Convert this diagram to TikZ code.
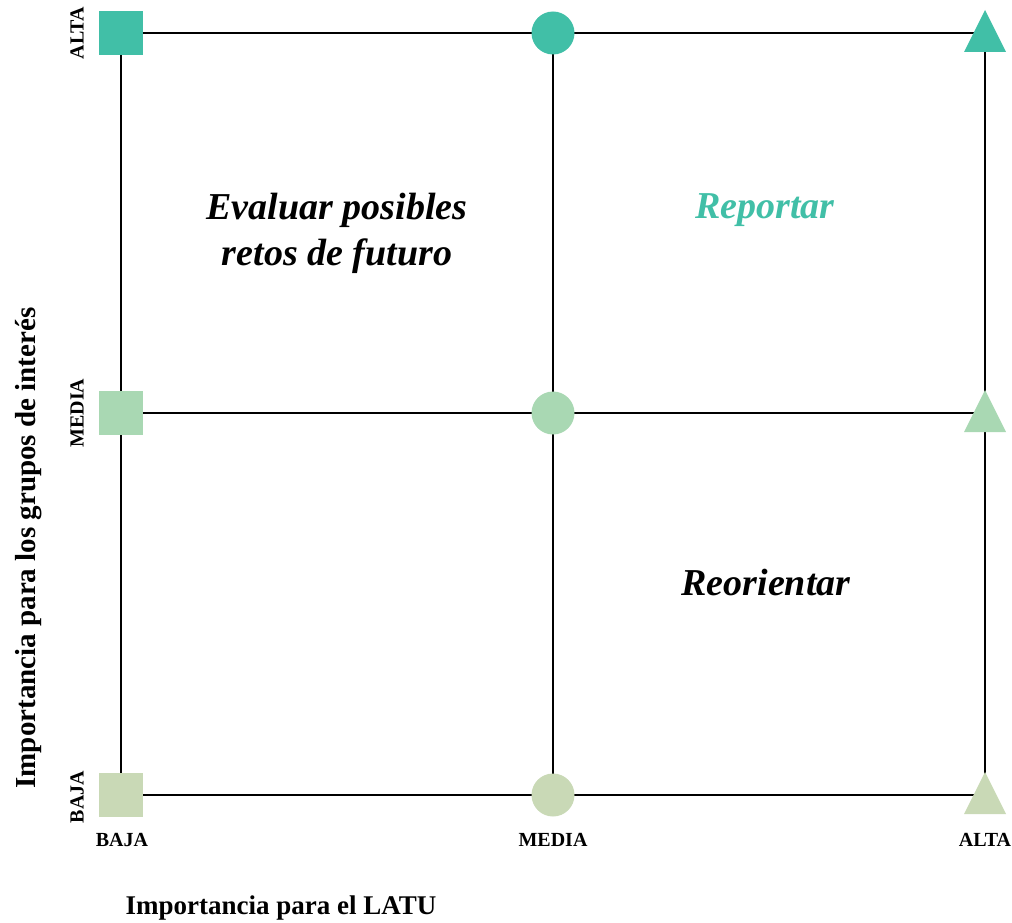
\documentclass[tikz,border=0pt]{standalone}
\usepackage{fontspec}
\setmainfont{Liberation Serif}
\usetikzlibrary{calc}
\definecolor{cHigh}{HTML}{41BFA7}
\definecolor{cMid}{HTML}{A9D8B3}
\definecolor{cLow}{HTML}{C9D9B6}
\tikzset{
  gridline/.style={line width=2.6pt, black},
  sqmark/.style={rectangle, minimum size=44pt, inner sep=0pt, fill=#1},
  cimark/.style={circle, minimum size=43pt, inner sep=0pt, fill=#1},
  ticklab/.style={font=\bfseries\fontsize{20}{22}\selectfont, inner sep=0pt},
  axistitle/.style={font=\bfseries\fontsize{27}{30}\selectfont, inner sep=0pt},
  quadlab/.style={font=\bfseries\itshape\fontsize{38}{46}\selectfont, align=center, inner sep=0pt},
}
\newcommand{\trimark}[2]{\fill[#2] ($(#1)+(0,-23)$) -- ($(#1)+(21,19)$) -- ($(#1)+(-21,19)$) -- cycle;}
\begin{document}
\begin{tikzpicture}[x=1pt,y=-1pt]
\useasboundingbox (0,0) rectangle (1012,923);
% grid points
\coordinate (LH) at (121,33);  \coordinate (MH) at (553,33);  \coordinate (RH) at (985,33);
\coordinate (LM) at (121,413); \coordinate (MM) at (553,413); \coordinate (RM) at (985,413);
\coordinate (LL) at (121,795); \coordinate (ML) at (553,795); \coordinate (RL) at (985,795);
% grid lines
\draw[gridline] (LH) -- (RH);
\draw[gridline] (LM) -- (RM);
\draw[gridline] (LL) -- (RL);
\draw[gridline] (LH) -- (LL);
\draw[gridline] (MH) -- (ML);
\draw[gridline] (RH) -- (RL);
% markers
\node[sqmark=cHigh] (sqH) at (LH) {};
\node[sqmark=cMid]  (sqM) at (LM) {};
\node[sqmark=cLow]  (sqL) at (LL) {};
\node[cimark=cHigh] (ciH) at (MH) {};
\node[cimark=cMid]  (ciM) at (MM) {};
\node[cimark=cLow]  (ciL) at (ML) {};
\trimark{RH}{cHigh}
\trimark{RM}{cMid}
\trimark{RL}{cLow}
% vertical scale labels
\node[ticklab, rotate=90] (yH) at (77,33) {ALTA};
\node[ticklab, rotate=90] (yM) at (77,413) {MEDIA};
\node[ticklab, rotate=90] (yL) at (77,797) {BAJA};
% horizontal scale labels
\node[ticklab] (xL) at (122,840) {BAJA};
\node[ticklab] (xM) at (553,840) {MEDIA};
\node[ticklab] (xH) at (985,840) {ALTA};
% axis titles
\node[axistitle] (xt) at (281,908) {Importancia para el LATU};
\node[axistitle, font=\bfseries\fontsize{29}{32}\selectfont, rotate=90] (yt) at (29,548) {Importancia para los grupos de interés};
% quadrant labels
\node[quadlab] (q1) at (337,233) {Evaluar posibles\\retos de futuro};
\node[quadlab, text=cHigh] (q2) at (765,210) {Reportar};
\node[quadlab] (q3) at (766,583) {Reorientar};
\end{tikzpicture}
\end{document}
